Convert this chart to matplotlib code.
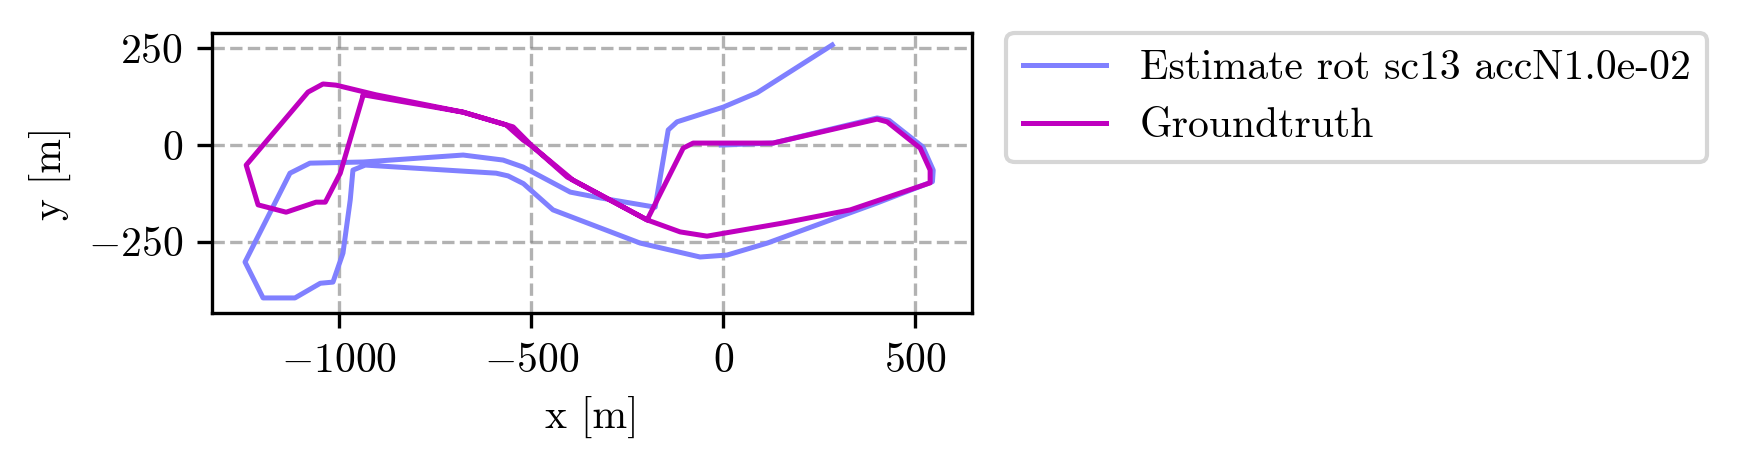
import numpy as np
import matplotlib
matplotlib.use("Agg")
import matplotlib.pyplot as plt

plt.rcParams['font.family'] = 'serif'
plt.rcParams['font.serif'] = ['cmr10', 'DejaVu Serif']
plt.rcParams['mathtext.fontset'] = 'cm'
plt.rcParams['axes.formatter.use_mathtext'] = True
plt.rcParams['font.size'] = 10

# groundtruth trajectory [m]
gt_x = [-937, -677, -565, -521, -495, -406, -198, -104, -78, 130, 401, 427, 513, 539, 539,
        331, 156, -42, -112, -198, -391, -495, -547, -677, -904, -1008, -1042, -1081, -1242,
        -1211, -1138, -1060, -1036, -997, -937]
gt_y = [130, 85, 52, 13, -5, -83, -194, -8, 5, 5, 67, 60, -8, -65, -98,
        -168, -202, -236, -225, -194, -91, -5, 47, 85, 130, 155, 158, 137, -52,
        -155, -174, -148, -148, -73, 130]

# estimate trajectory [m]
est_x = [-5, 130, 401, 432, 520, 547, 545, 401, 115, 10, -60, -216, -443, -520, -560, -591,
         -932, -964, -971, -990, -1016, -1049, -1115, -1198, -1245, -1128, -1076, -937, -677,
         -573, -521, -398, -320, -177, -143, -120, 0, 88, 284]
est_y = [0, 5, 70, 64, -5, -65, -95, -150, -254, -285, -290, -254, -168, -100, -80, -73,
         -52, -65, -142, -280, -355, -358, -396, -396, -303, -73, -47, -44, -26,
         -39, -57, -122, -137, -161, 39, 60, 98, 135, 259]

fig = plt.figure(figsize=(1737/300, 469/300), dpi=300)
ax = fig.add_axes([212/1737, 1-313/469, 760/1737, 280/469])
ax.plot(est_x, est_y, color='#8080ff', lw=1.2, label='Estimate rot sc13 accN1.0e-02')
ax.plot(gt_x, gt_y, color='#bf00bf', lw=1.2, label='Groundtruth')
ax.set_xlim(-1331, 648)
ax.set_ylim(-435, 290)
ax.set_xticks([-1000, -500, 0, 500])
ax.set_yticks([-250, 0, 250])
ax.grid(True, ls='--', color='gray', alpha=0.6)
ax.set_xlabel('x [m]')
ax.set_ylabel('y [m]')
ax.legend(loc='upper left', bbox_to_anchor=(1.045, 1.0), borderaxespad=0)
fig.savefig('out.png', dpi=300)
